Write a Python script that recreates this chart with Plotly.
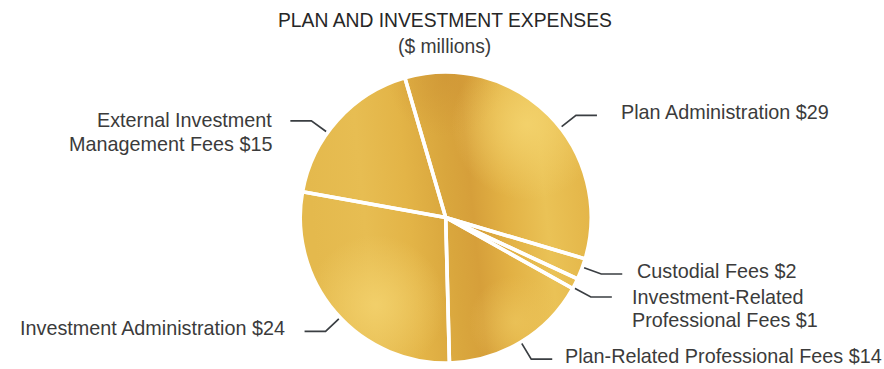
import base64
import math
import plotly.graph_objects as go

# ---- data ----
title_text = "PLAN AND INVESTMENT EXPENSES"
subtitle_text = "($ millions)"
categories = [
    "Plan Administration",
    "Custodial Fees",
    "Investment-Related<br>Professional Fees",
    "Plan-Related Professional Fees",
    "Investment Administration",
    "External Investment<br>Management Fees",
]
values = [29, 2, 1, 14, 24, 15]

# ---- layout constants (pixels) ----
W, H = 884, 369
CX, CY, R = 445.7, 217.5, 145.5
START_DEG = -16.3
# small angular shifts of the leader anchors away from the slice mid-angles
leader_shift_deg = [6.8, -0.8, 1.6, 0, -2.8, -6.2]
# gap between the end of each leader line and its label
label_gap = [22, 13, 18, 11, 18, 16]
FONT = "Liberation Sans, Arial, sans-serif"
TEXT_COLOR = "#3b3b3b"
LINE_COLOR = "#3a3e42"
FS = 19.8
LINE_GAP = 23.5

# gold gradient disc placed under the (transparent) pie slices
svg = """<svg xmlns="http://www.w3.org/2000/svg" width="400" height="400" viewBox="0 0 100 100">
<defs>
<linearGradient id="s" x1="0" y1="0.1" x2="1" y2="0">
<stop offset="0" stop-color="#E4B94D"/>
<stop offset="0.18" stop-color="#E7BD52"/>
<stop offset="0.33" stop-color="#E3B447"/>
<stop offset="0.47" stop-color="#D9A63D"/>
<stop offset="0.55" stop-color="#D69F3A"/>
<stop offset="0.66" stop-color="#E2B144"/>
<stop offset="0.8" stop-color="#EAC256"/>
<stop offset="0.92" stop-color="#E5B84B"/>
<stop offset="1" stop-color="#E1B247"/>
</linearGradient>
<radialGradient id="h1" cx="0.78" cy="0.18" r="0.26">
<stop offset="0" stop-color="#F3D26C" stop-opacity="0.95"/>
<stop offset="1" stop-color="#F3D26C" stop-opacity="0"/>
</radialGradient>
<radialGradient id="h2" cx="0.26" cy="0.8" r="0.24">
<stop offset="0" stop-color="#F2D06B" stop-opacity="0.95"/>
<stop offset="1" stop-color="#F2D06B" stop-opacity="0"/>
</radialGradient>
<radialGradient id="h3" cx="0.74" cy="0.86" r="0.16">
<stop offset="0" stop-color="#EDC75E" stop-opacity="0.7"/>
<stop offset="1" stop-color="#EDC75E" stop-opacity="0"/>
</radialGradient>
<radialGradient id="d1" cx="0.5" cy="0.02" r="0.2">
<stop offset="0" stop-color="#CF9636" stop-opacity="0.7"/>
<stop offset="1" stop-color="#CF9636" stop-opacity="0"/>
</radialGradient>
<clipPath id="c"><circle cx="50" cy="50" r="50"/></clipPath>
</defs>
<g clip-path="url(#c)">
<rect width="100" height="100" fill="url(#s)"/>
<rect width="100" height="100" fill="url(#d1)"/>
<rect width="100" height="100" fill="url(#h1)"/>
<rect width="100" height="100" fill="url(#h2)"/>
<rect width="100" height="100" fill="url(#h3)"/>
</g></svg>"""
svg_uri = "data:image/svg+xml;base64," + base64.b64encode(svg.encode()).decode()

fig = go.Figure()

fig.add_trace(go.Pie(
    labels=[c.replace("<br>", " ") for c in categories],
    values=values,
    sort=False,
    direction="clockwise",
    rotation=START_DEG,
    textinfo="none",
    hoverinfo="label+value",
    marker=dict(colors=["rgba(0,0,0,0)"] * len(values),
                line=dict(color="white", width=3.6)),
    domain=dict(x=[(CX - R) / W, (CX + R) / W],
                y=[1 - (CY + R) / H, 1 - (CY - R) / H]),
    showlegend=False,
))

# leader lines and labels, positioned from each slice's mid-angle
total = sum(values)
lx, ly = [], []
annotations = []
cum = 0.0
for cat, v, shift, gap in zip(categories, values, leader_shift_deg, label_gap):
    mid = START_DEG + (cum + v / 2) / total * 360 + shift
    cum += v
    a = math.radians(mid)
    ux, uy = math.sin(a), -math.cos(a)
    ax, ay = CX + (R + 1) * ux, CY + (R + 1) * uy
    ex, ey = ax + 19 * ux, ay + 19 * uy
    side = 1 if ux >= 0 else -1
    hx = ex + side * 21
    lx += [ax, ex, hx, None]
    ly += [ay, ey, ey, None]
    lines = f"{cat} ${v}".split("<br>")
    y0 = ey - 3 if len(lines) == 1 else ey - 0.5
    for i, line in enumerate(lines):
        annotations.append(dict(
            x=hx + side * gap, y=y0 + i * LINE_GAP,
            xref="x", yref="y", text=line, showarrow=False,
            xanchor="left" if side > 0 else "right", yanchor="middle",
            font=dict(family=FONT, size=FS, color=TEXT_COLOR),
        ))

fig.add_trace(go.Scatter(
    x=lx, y=ly, mode="lines",
    line=dict(color=LINE_COLOR, width=1.7),
    hoverinfo="skip", showlegend=False,
))

annotations.append(dict(x=444.5, y=20.5, xref="x", yref="y", text=title_text,
                        showarrow=False, xanchor="center", yanchor="middle",
                        font=dict(family=FONT, size=19.3, color="#262626")))
annotations.append(dict(x=444.5, y=46, xref="x", yref="y", text=subtitle_text,
                        showarrow=False, xanchor="center", yanchor="middle",
                        font=dict(family=FONT, size=19.3, color=TEXT_COLOR)))

fig.update_layout(
    width=W, height=H,
    margin=dict(l=0, r=0, t=0, b=0),
    paper_bgcolor="white", plot_bgcolor="rgba(0,0,0,0)",
    xaxis=dict(range=[0, W], visible=False, fixedrange=True),
    yaxis=dict(range=[H, 0], visible=False, fixedrange=True),
    annotations=annotations,
    images=[dict(source=svg_uri, xref="paper", yref="paper",
                 x=(CX - R) / W, y=1 - (CY - R) / H,
                 sizex=2 * R / W, sizey=2 * R / H,
                 xanchor="left", yanchor="top", sizing="stretch",
                 layer="below")],
)

fig.write_html("out.html")
